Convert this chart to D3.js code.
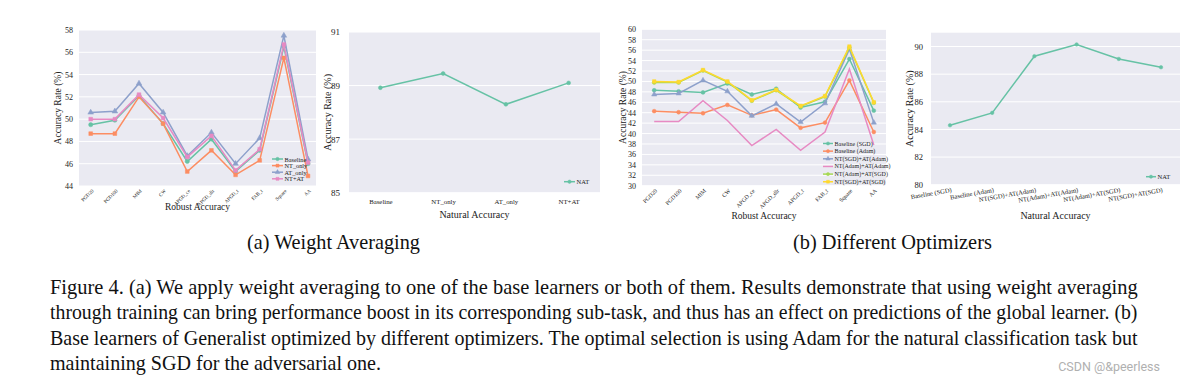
<!DOCTYPE html>
<html><head><meta charset="utf-8">
<script src="https://cdn.jsdelivr.net/npm/d3@7"></script>
<style>
html,body{margin:0;padding:0;background:#fff;}
svg{display:block;}
text{font-family:"Liberation Serif","DejaVu Serif",serif;}
</style></head>
<body>
<script>
// ---------------- DATA ----------------
const robustCats = ["PGD20","PGD100","MIM","CW","APGD_ce","APGD_dlr","APGD_t","FAB_t","Square","AA"];
// (a) weight averaging – robust accuracy
const wavgBaseline = [49.5, 49.9, 52.1, 49.6, 46.2, 48.2, 45.3, 47.2, 56.5, 46.0];
const wavgNTonly   = [48.7, 48.7, 52.0, 49.6, 45.3, 47.2, 45.0, 46.3, 55.5, 44.9];
const wavgATonly   = [50.6, 50.7, 53.2, 50.6, 46.7, 48.8, 46.0, 48.3, 57.5, 46.4];
const wavgNTAT     = [50.0, 50.0, 52.2, 50.1, 46.6, 48.5, 45.4, 47.3, 56.7, 46.1];
const wavgNames    = ["Baseline","NT_only","AT_only","NT+AT"];
const wavgYTicks   = [44,46,48,50,52,54,56,58];
// (a) weight averaging – natural accuracy
const natCatsA = ["Baseline","NT_only","AT_only","NT+AT"];
const natValsA = [88.92, 89.45, 88.3, 89.1];
const natYTicksA = [85,87,89,91];
// (b) different optimizers – robust accuracy
const optBaseSGD   = [48.3, 48.1, 47.9, 49.6, 47.5, 48.6, 45.0, 46.1, 54.3, 44.4];
const optBaseAdam  = [44.3, 44.1, 43.9, 45.5, 43.5, 44.6, 41.1, 42.1, 50.2, 40.3];
const optSGDAdam   = [47.5, 47.7, 50.2, 48.1, 43.4, 45.7, 42.2, 45.8, 56.2, 42.1];
const optAdamAdam  = [42.3, 42.3, 46.3, 42.5, 37.7, 40.8, 36.8, 40.3, 52.4, 37.8];
const optAdamSGD   = [49.8, 49.8, 52.1, 49.9, 46.3, 48.3, 45.2, 47.1, 56.5, 45.9];
const optSGDSGD    = [50.0, 49.9, 52.2, 50.0, 46.4, 48.4, 45.3, 47.2, 56.7, 46.0];
const optNames     = ["Baseline (SGD)","Baseline (Adam)","NT(SGD)+AT(Adam)","NT(Adam)+AT(Adam)","NT(Adam)+AT(SGD)","NT(SGD)+AT(SGD)"];
const optYTicks    = d3.range(30, 61, 2);
// (b) different optimizers – natural accuracy
const natCatsB = ["Baseline (SGD)","Baseline (Adam)","NT(SGD)+AT(Adam)","NT(Adam)+AT(Adam)","NT(Adam)+AT(SGD)","NT(SGD)+AT(SGD)"];
const natValsB = [84.3, 85.2, 89.3, 90.15, 89.1, 88.5];
const natYTicksB = [80,82,84,86,88,90];
// captions
const subCaptions = ["(a) Weight Averaging","(b) Different Optimizers"];
const captionLines = [
  "Figure 4. (a) We apply weight averaging to one of the base learners or both of them. Results demonstrate that using weight averaging",
  "through training can bring performance boost in its corresponding sub-task, and thus has an effect on predictions of the global learner. (b)",
  "Base learners of Generalist optimized by different optimizers. The optimal selection is using Adam for the natural classification task but",
  "maintaining SGD for the adversarial one."
];
const watermark = "CSDN @&peerless";

// ---------------- STYLE ----------------
const C = {green:"#66c2a5", orange:"#fc8d62", blue:"#8da0cb", pink:"#e78ac3", lime:"#a6d854", yellow:"#ffd92f"};
const BG = "#eaeaf2";

const svg = d3.select("body").append("svg").attr("width",1190).attr("height",383);

function marker(g, type, x, y, color, s){
  if(type==="none") return;
  const sym = {circle:d3.symbolCircle, square:d3.symbolSquare, triangle:d3.symbolTriangle, diamond:d3.symbolDiamond}[type];
  g.append("path").attr("d", d3.symbol(sym, s)()).attr("transform",`translate(${x},${y})`)
    .attr("fill",color).attr("stroke",color).attr("stroke-width",0.5);
}

function panel(o){
  const g = svg.append("g");
  g.append("rect").attr("x",o.left).attr("y",o.top).attr("width",o.right-o.left).attr("height",o.bottom-o.top).attr("fill",BG);
  const y = d3.scaleLinear().domain(o.ydom).range([o.bottom,o.top]);
  const x = d3.scalePoint().domain(o.cats).range(o.xrange || [o.left,o.right]).padding(o.pad||0);
  // grid
  g.append("g").selectAll("line").data(o.yticks).join("line")
    .attr("x1",o.left).attr("x2",o.right).attr("y1",d=>y(d)).attr("y2",d=>y(d))
    .attr("stroke","#fff").attr("stroke-width",1);
  // y axis
  const ya = g.append("g").attr("transform",`translate(${o.left},0)`)
    .call(d3.axisLeft(y).tickValues(o.yticks).tickSize(0).tickPadding(o.ytickPad).tickFormat(d3.format("d")));
  ya.select(".domain").remove();
  ya.selectAll("text").attr("font-family","Liberation Serif").attr("font-size",o.ytickSize).attr("fill","#222");
  // x axis
  const xa = g.append("g").attr("transform",`translate(0,${o.bottom})`)
    .call(d3.axisBottom(x).tickSize(0).tickPadding(o.xtickPad));
  xa.select(".domain").remove();
  xa.selectAll("text").attr("font-family","Liberation Serif").attr("font-size",o.xtickSize).attr("fill","#222");
  if(o.xrot){
    xa.selectAll("text").attr("text-anchor","end").attr("y",0).attr("dy","0.35em").attr("x",0)
      .attr("transform",`translate(${o.xrotDx||0},${o.xtickPad}) rotate(${o.xrot})`);
  }
  // series
  const line = d3.line().x((d,i)=>x(o.cats[i])).y(d=>y(d));
  o.series.forEach(s=>{
    g.append("path").attr("d",line(s.values)).attr("fill","none").attr("stroke",s.color).attr("stroke-width",o.lw||1.5);
    s.values.forEach((v,i)=>marker(g,s.marker,x(o.cats[i]),y(v),s.color,o.msize||14));
  });
  // labels
  g.append("text").attr("x",(o.left+o.right)/2).attr("y",o.xlabelY).attr("text-anchor","middle")
    .attr("font-size",o.labelSize).attr("fill","#222").text(o.xlabel);
  g.append("text").attr("transform",`translate(${o.ylabelX},${(o.top+o.bottom)/2}) rotate(-90)`)
    .attr("text-anchor","middle").attr("dominant-baseline","central")
    .attr("font-size",o.labelSize).attr("fill","#222").text("Accuracy Rate (%)");
  // legend
  const L = o.legend;
  o.series.forEach((s,i)=>{
    const ly = L.y + i*L.dy;
    g.append("line").attr("x1",L.x).attr("x2",L.x+L.len).attr("y1",ly).attr("y2",ly).attr("stroke",s.color).attr("stroke-width",o.lw||1.5);
    marker(g,s.marker,L.x+L.len/2,ly,s.color,L.msize||10);
    g.append("text").attr("x",L.x+L.len+1.5).attr("y",ly).attr("dominant-baseline","central")
      .attr("font-size",L.size).attr("fill","#222").text(s.name);
  });
}

// Panel (a) robust
panel({left:79,right:316,top:30,bottom:186,ydom:[44,58],yticks:wavgYTicks,cats:robustCats,
  xrange:[90.7,308],ytickPad:6,ytickSize:8,xtickPad:4,xtickSize:5,xrot:-45,xrotDx:1.5,
  xlabel:"Robust Accuracy",xlabelY:209.5,ylabelX:58,labelSize:9.5,
  series:[
    {name:wavgNames[0],values:wavgBaseline,color:C.green,marker:"circle"},
    {name:wavgNames[1],values:wavgNTonly,color:C.orange,marker:"square"},
    {name:wavgNames[2],values:wavgATonly,color:C.blue,marker:"triangle"},
    {name:wavgNames[3],values:wavgNTAT,color:C.pink,marker:"square"}],
  legend:{x:272,y:159,dy:6.6,len:11,size:6.3,msize:9}});

// Panel (a) natural
panel({left:349,right:600,top:32,bottom:192.7,ydom:[85,91],yticks:natYTicksA,cats:natCatsA,pad:0.5,
  ytickPad:9,ytickSize:9,xtickPad:6,xtickSize:6.8,
  xlabel:"Natural Accuracy",xlabelY:217.5,ylabelX:327,labelSize:10,msize:12,
  series:[{name:"NAT",values:natValsA,color:C.green,marker:"circle"}],
  legend:{x:564,y:181.7,dy:0,len:11,size:6.5,msize:9}});

// Panel (b) robust
panel({left:642,right:886,top:29.3,bottom:185.7,ydom:[30,60],yticks:optYTicks,cats:robustCats,pad:0.5,
  ytickPad:6,ytickSize:8,xtickPad:4,xtickSize:5.8,xrot:-45,xrotDx:1.5,
  xlabel:"Robust Accuracy",xlabelY:219,ylabelX:623,labelSize:9.5,msize:12,
  series:[
    {name:optNames[0],values:optBaseSGD,color:C.green,marker:"circle"},
    {name:optNames[1],values:optBaseAdam,color:C.orange,marker:"circle"},
    {name:optNames[2],values:optSGDAdam,color:C.blue,marker:"triangle"},
    {name:optNames[3],values:optAdamAdam,color:C.pink,marker:"none"},
    {name:optNames[4],values:optAdamSGD,color:C.lime,marker:"circle"},
    {name:optNames[5],values:optSGDSGD,color:C.yellow,marker:"square"}],
  legend:{x:823,y:143.5,dy:7.65,len:10,size:6,msize:8}});

// Panel (b) natural
panel({left:931,right:1180,top:32.7,bottom:184.7,ydom:[80,91],yticks:natYTicksB,cats:natCatsB,pad:0.45,
  ytickPad:8,ytickSize:8.5,xtickPad:5,xtickSize:6.5,xrot:-10,xrotDx:1,
  xlabel:"Natural Accuracy",xlabelY:218.5,ylabelX:909,labelSize:10,msize:10,
  series:[{name:"NAT",values:natValsB,color:C.green,marker:"circle"}],
  legend:{x:1146,y:176.7,dy:0,len:10,size:6.5,msize:8}});

// sub captions (horizontally condensed like the reference)
function condensed(txt, x, yb, fs, targetW, anchorMid){
  const t = svg.append("text").attr("font-size",fs).attr("fill","#111").text(txt);
  const w = t.node().getComputedTextLength();
  const sx = targetW / w;
  t.attr("transform",`translate(${x},${yb}) scale(${sx},1)`);
  return sx;
}
condensed(subCaptions[0], 247, 248.5, 20.5, 173);
condensed(subCaptions[1], 793, 248.5, 20.5, 199);

// main caption: justified lines by horizontal scaling, last line uses average scale
const capX0 = 50, capW = 1088, capFS = 21;
const baseY = [293.5, 319, 344.5, 370];
const scales = [];
captionLines.forEach((ln,li)=>{
  if(li < captionLines.length-1){
    scales.push(condensed(ln, capX0, baseY[li], capFS, capW));
  } else {
    const t = svg.append("text").attr("font-size",capFS).attr("fill","#111").text(ln);
    t.attr("transform",`translate(${capX0},${baseY[li]}) scale(${d3.mean(scales)},1)`);
  }
});

svg.append("text").attr("x",1160).attr("y",371).attr("text-anchor","end")
  .style("font-family","Roboto, 'DejaVu Sans', sans-serif").attr("font-size",12.5).attr("fill","#b0b0b0").text(watermark);
</script>
</body></html>
